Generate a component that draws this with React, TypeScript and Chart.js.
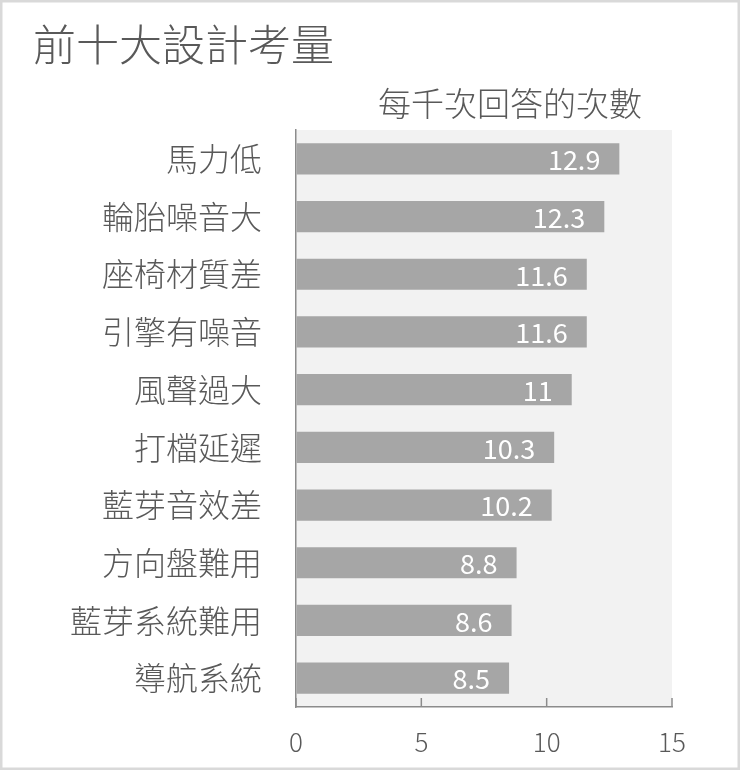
import { useEffect, useRef } from "react";
import { Chart, ChartConfiguration, Plugin, registerables } from "chart.js";

Chart.register(...registerables);

const TITLE = "前十大設計考量";
const SUBTITLE = "每千次回答的次數";
const categories = [
  "馬力低",
  "輪胎噪音大",
  "座椅材質差",
  "引擎有噪音",
  "風聲過大",
  "打檔延遲",
  "藍芽音效差",
  "方向盤難用",
  "藍芽系統難用",
  "導航系統",
];
const counts = [12.9, 12.3, 11.6, 11.6, 11, 10.3, 10.2, 8.8, 8.6, 8.5];
const xTicks = [0, 5, 10, 15];

const FONT = "'Noto Sans CJK TC', 'Noto Sans', sans-serif";
const TEXT = "#595959";

// background, frame, titles, inner tick marks and value labels
const decorations: Plugin<"bar"> = {
  id: "decorations",
  beforeDraw(chart) {
    const { ctx, chartArea, width, height } = chart;
    ctx.save();
    ctx.fillStyle = "#ffffff";
    ctx.fillRect(0, 0, width, height);
    ctx.fillStyle = "#f2f2f2";
    ctx.fillRect(chartArea.left, chartArea.top, chartArea.right - chartArea.left, chartArea.bottom - chartArea.top);
    ctx.strokeStyle = "#d9d9d9";
    ctx.lineWidth = 2.5;
    ctx.strokeRect(1.25, 1.25, width - 2.5, height - 2.5);

    ctx.fillStyle = TEXT;
    ctx.textBaseline = "middle";
    ctx.textAlign = "left";
    ctx.font = `300 43px ${FONT}`;
    ctx.fillText(TITLE, 33, 45);
    ctx.textAlign = "center";
    ctx.font = `300 33px ${FONT}`;
    ctx.fillText(SUBTITLE, 510, 103);
    ctx.restore();
  },
  afterDatasetsDraw(chart) {
    const { ctx } = chart;
    const meta = chart.getDatasetMeta(0);
    ctx.save();
    ctx.fillStyle = "#ffffff";
    ctx.font = `27px ${FONT}`;
    ctx.textAlign = "right";
    ctx.textBaseline = "middle";
    meta.data.forEach((bar, i) => {
      const p = bar.getProps(["x", "y"], true) as { x: number; y: number };
      ctx.fillText(String(counts[i]), p.x - 19, p.y + 1);
    });
    ctx.restore();
  },
  afterDraw(chart) {
    const { ctx } = chart;
    const x = chart.scales.x;
    ctx.save();
    ctx.strokeStyle = "#8c8c8c";
    ctx.lineWidth = 1.5;
    xTicks.forEach((t) => {
      const px = x.getPixelForValue(t);
      ctx.beginPath();
      ctx.moveTo(px, x.top);
      ctx.lineTo(px, x.top - 9);
      ctx.stroke();
    });
    ctx.restore();
  },
};

export default function App() {
  const canvasRef = useRef<HTMLCanvasElement>(null);
  const chartRef = useRef<Chart | null>(null);

  useEffect(() => {
    document.body.style.margin = "0";
    if (!canvasRef.current) return;
    if (chartRef.current) chartRef.current.destroy();
    const ctx = canvasRef.current.getContext("2d");
    if (!ctx) return;

    const config: ChartConfiguration<"bar"> = {
      type: "bar",
      data: {
        labels: categories,
        datasets: [
          {
            data: counts,
            backgroundColor: "#a6a6a6",
            borderWidth: 0,
            categoryPercentage: 1,
            barPercentage: 0.54,
          },
        ],
      },
      options: {
        indexAxis: "y",
        responsive: true,
        maintainAspectRatio: false,
        animation: false,
        layout: { padding: { left: 0, top: 130, right: 68, bottom: 0 } },
        plugins: {
          legend: { display: false },
          tooltip: { enabled: false },
        },
        scales: {
          x: {
            min: 0,
            max: 15,
            afterBuildTicks: (scale) => {
              scale.ticks = xTicks.map((v) => ({ value: v }));
            },
            afterFit: (scale) => {
              scale.height = 63;
            },
            grid: { display: true, drawOnChartArea: false, drawTicks: false },
            border: { display: true, color: "#8c8c8c", width: 1.5 },
            ticks: {
              color: TEXT,
              font: { family: FONT, size: 26, weight: "300" },
              padding: 20,
              maxRotation: 0,
            },
          },
          y: {
            afterFit: (scale) => {
              scale.width = 296;
            },
            grid: { display: true, drawOnChartArea: false, drawTicks: false },
            border: { display: true, color: "#8c8c8c", width: 1.5 },
            ticks: {
              color: TEXT,
              font: { family: FONT, size: 32, weight: "300" },
              padding: 34,
            },
          },
        },
      },
      plugins: [decorations],
    };

    chartRef.current = new Chart(ctx, config);
    return () => {
      if (chartRef.current) {
        chartRef.current.destroy();
        chartRef.current = null;
      }
    };
  }, []);

  return (
    <div style={{ position: "relative", width: 740, height: 770 }}>
      <canvas ref={canvasRef} />
    </div>
  );
}
